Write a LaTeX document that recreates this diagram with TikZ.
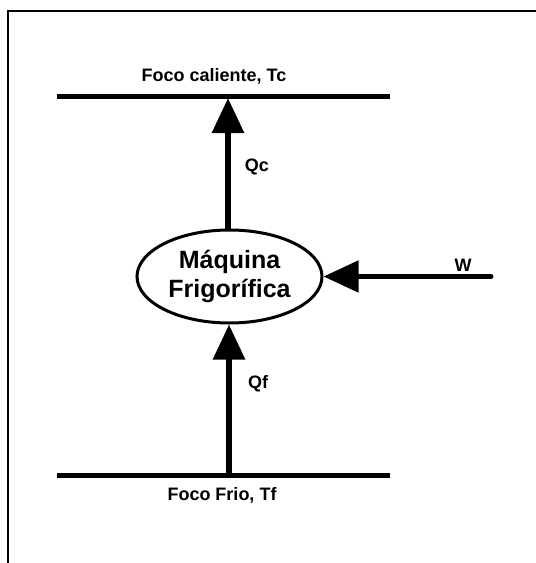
\documentclass[tikz,border=0pt]{standalone}
\usepackage{fontspec}
\setmainfont{Liberation Sans}
\usetikzlibrary{positioning,shapes.geometric,arrows.meta}

\begin{document}
\begin{tikzpicture}[
    x=1pt, y=-1pt,
    maquina/.style={ellipse, draw, line width=3pt, minimum width=185pt, minimum height=93pt, inner sep=0pt, align=center, font=\bfseries\fontsize{25}{29}\selectfont},
    foco/.style={draw, line width=5pt},
    flecha/.style={draw, line width=6pt, -{Triangle[length=35pt,width=31pt]}},
    etiq/.style={font=\bfseries\fontsize{18}{21}\selectfont, inner sep=0pt}
]
\useasboundingbox (0,0) rectangle (536,563);

% Marco
\draw[line width=2pt] (536,10.5) -| (7.5,563);

% Focos
\coordinate (calI) at (57,96);
\coordinate (calD) at (390,96);
\coordinate (friI) at (57,475);
\coordinate (friD) at (390,475);
\draw[foco] (calI) -- (calD);
\draw[foco] (friI) -- (friD);
\node[etiq] (caliente) at (214,76) {Foco caliente, Tc};
\node[etiq] (frio) at (222,495) {Foco Frio, Tf};

% Maquina
\node[maquina] (maq) at (229.5,276.5) {Máquina\\Frigorífica};
\coordinate (arriba) at (228,98);
\coordinate (abajo) at (229,475);
\coordinate (w) at (491,276.5);

% Flechas
\draw[flecha] (maq.north -| arriba) -- (arriba);
\draw[flecha] (abajo) -- (maq.south -| abajo);
\draw[flecha, line width=5pt, line cap=round] (w) -- (maq.east);

% Etiquetas
\node[etiq] (qc) at (257,167) {Qc};
\node[etiq] (qf) at (258,384) {Qf};
\node[etiq] (tw) at (463,265) {W};

\end{tikzpicture}
\end{document}
